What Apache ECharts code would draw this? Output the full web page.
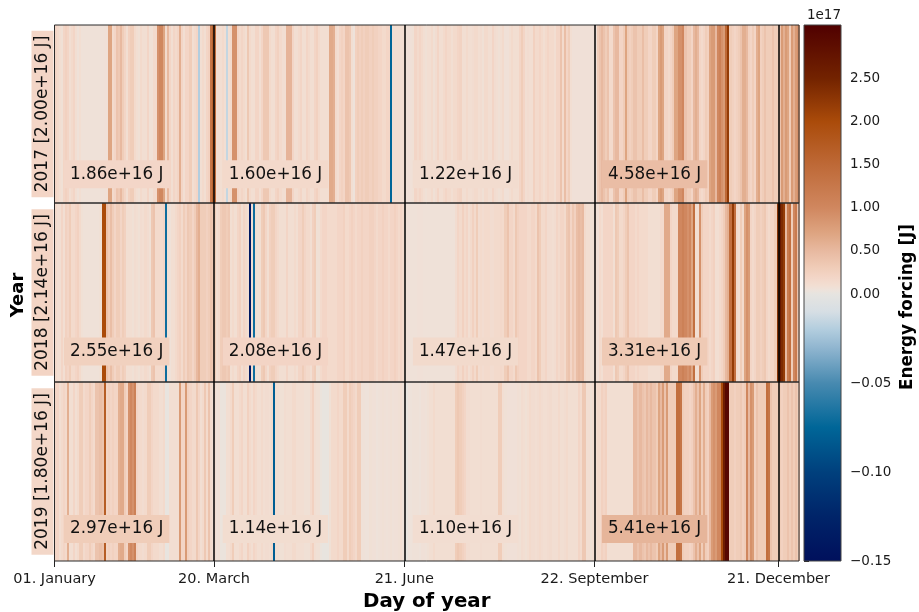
<!DOCTYPE html>
<html><head><meta charset="utf-8">
<style>html,body{margin:0;padding:0;background:#fff}#c{width:919px;height:612px}</style>
<script src="https://cdn.jsdelivr.net/npm/echarts@6/dist/echarts.min.js"></script>
</head><body><div id="c"></div>
<script>
// Daily energy forcing, in units of 1e16 J
const days2017 = [
2,1.5,1,0.8,2,2.5,2,1,1.5,2,
1,0.6,1,0.6,0.6,0.6,0.6,0.6,0.6,0.6,
0.6,0.6,0.6,0.6,0.7,0.7,7,7,1.5,2,
4,3.5,5,3,2,1,2.5,3,3,1.5,
1,0.8,1.5,1,1,2,0.8,0.8,1.5,1.5,
9,10,10,7,1.5,5,2,1,2,1.5,
2,6,2,1,2,2,3,1,1.5,2,
-0.2,1,1.5,1,2,2.5,13,16,14,1,
1,1,1.5,1,-0.15,1,1.5,9,9,2,
1.5,2,1.5,1,3.5,1.5,1,1,2,2,
1,2,3.5,3.5,3.5,1.5,1,1,2,2.5,
1.5,1,1,5.5,5.5,5.5,2,1,1,1.5,
2,1,1,2,1.5,1,1,2,2.5,1.5,
1,1,1,1,6.5,6.5,6,1.5,1,2,
2.5,2,4,4,3.5,1,0.5,2.5,3,2.5,
3,2.5,3,3,2.5,3,2.5,2.5,2,2,
1.5,1.5,2,2,-0.75,1,1,1,1,1,
1,1,0.6,0.7,0.7,0.8,2,1.5,2,1.5,
1,0.8,1,1,1.5,0.8,1.2,2,1,1,
1.5,2,1.5,1.5,1,1.5,1.5,2,2.2,1,
1,1.5,1,1,1.2,1.5,1.5,1,1.2,0.8,
1.5,1.5,1,1,2,1.2,1,0.8,1,1.5,
0.7,0.7,1,1.5,1,1,1,2,3,2,
1,1.2,1,1,2.5,1.5,1.5,2,1.5,1,
1.5,2,1.5,1.5,1,2,2,4,1.5,4.5,
2,3,1,0.7,0.7,0.7,0.7,0.7,0.7,0.7,
0.7,0.7,0.7,0.7,0.7,3,4,5,4,3,
4,1.5,1.5,4,5,5,2,2,3,7,
3,2.5,3,4,4,3,3,4.5,3,3,
2,2,3,3,2,7,8,7,2,2,
1.5,2,3,7,7,9,9,10,4,3,
3,2,5,6,5,2,1.5,2,3,2.5,
7,8,8,5,10,11,9,8,15,22,
3,2.5,2,2.5,3,4,6,6,5,2.5,
2,3,2,6,7,2.5,3,4,3,3,
3,4,3,3,4,8,6,8,7,3,
8,6,8,9,6];
const days2018 = [
1.5,1,1,2,1,2.5,2,3,1.5,1.5,
2,2.5,1.5,0.8,0.6,0.6,0.6,0.6,0.6,0.6,
0.6,0.6,0.8,20,20,4,3,4.5,3,2,
3,3,2,3,2.5,1,1,1,0.8,1.2,
1,0.8,1.2,1,1.5,1.2,0.8,3.5,4,1.5,
1.5,1.5,1.5,2,-0.7,0.8,0.6,1,1,1.5,
2,2.5,1.5,3,2,3.5,3,2,3,5,
6,3,3,3,2.5,3,4,3.5,3,1,
1.5,3,3.5,3.5,3,3.5,1,1.5,1,2,
2.5,1,2,1.5,1,-1.4,1,-0.7,1,0.8,
1,3,3.5,2,1,2.5,3,3,2,1.5,
1,1,1,2,1,1,1,1.5,1,2,
2,3,2,1.5,1.5,1,2.5,3,0.8,0.8,
1.5,2,2,1.5,1.5,1.5,1.5,1.5,2,2,
2,2.5,1.5,1.5,2,2.5,2,1.5,2,2,
2.5,2,2,2,2.5,2.5,2,1.5,2,2,
2.5,2,2,1.5,2,2,2.5,2,1.5,2,
1.5,0.6,0.6,0.6,0.6,0.6,0.6,0.7,0.7,0.7,
0.6,0.6,0.6,0.6,0.6,0.6,0.6,0.6,0.6,0.6,
0.6,0.6,0.6,0.6,0.6,0.6,1.2,2,1.5,2.5,
1.5,2,1,1.5,2.5,1.5,3,1.2,1.5,1.2,
1.5,1.5,1.5,1.2,1.2,1.5,1.5,1.5,1.7,1.5,
3,4,2,2,1.5,3.5,2.5,2,2,2,
2,1.5,1.5,2,2,1.5,4,3,1.5,1.5,
2,1.2,1.2,1,1.2,2,1.5,2,2,1.5,
3.5,4,2,3.5,2.5,4.5,5,4.5,5,1.5,
1,1,0.8,0.8,0.7,0.7,1.5,1,2,2,
2,2,2,1,3.5,3,1.5,1.5,2,3,
4,2,2,2,1.5,2,1.5,1.5,1.5,1.5,
1,1,1,1,1,1,1.5,1.5,6.5,6.5,
6.5,2,1.5,1.5,1.5,10,10,11,10,9,
10,7,14,1,1,9,3,2,2,2,
1.5,2,2.5,1,1,1.5,2,3,5,6,
14,22,14,1.5,1,3,1.5,7,9,8,
2,1.5,2,3,3,2.5,3,3.5,2,1.5,
2,2,3,23,27,24,22,5,12,14,
3,10,12,4,3];
const days2019 = [
2,2,1,1.5,2,1.5,6,1,1,2,
1,1.5,3,3,1.5,2,2,3,2,1.5,
4,4,4.5,4,17,2,2.5,2,2.5,2,
2,6,6.5,6.5,3,2,9,10,9,11,
2,1.5,1.5,1.2,1.5,3,3,2,1.5,1.5,
1.5,1,1,1.5,0.1,0.1,1,1,1,1,
1,8,2,2,8,2.5,2,1.5,1.5,3.5,
2,1,1.5,3.5,1.5,4,1.5,1,1.2,0.6,
0.8,0.3,0.3,0.3,1,1,1.5,3,1,1,
1.5,2,1,1,2.5,1.5,1,2,1.5,1,
1,1.5,1,1.2,1.2,1,1.5,-0.8,1,1,
0.8,0.8,1.2,1,1,1,1.5,1.5,1,1,
1,1,0.8,0.8,0.8,1.5,2.5,1,0.8,0.8,
0.3,0.1,0.1,0.1,0.8,1.5,1.5,1.5,2,1.5,
1.5,3,3,1.5,3,2.5,2,1.5,3,3,
0.6,0.6,0.5,0.5,0.8,0.7,0.7,0.5,0.6,0.7,
0.8,0.7,0.6,0.7,0.8,0.6,0.7,0.7,0.8,1,
0.6,0.1,0.1,0.5,0.5,0.6,0.6,0.6,0.5,0.7,
0.7,0.6,0.8,1,1,1.5,1,1,1,1,
1,1,1,1,1,1,3,3.5,3,2.5,
2,1.2,1.2,1,1,1,1,1,1.2,1,
1,1,1,1,1,1,1,3,3,1,
0.8,0.7,0.7,0.7,0.7,0.7,0.9,0.8,1.2,1,
0.8,1,1.5,1.2,1.2,1,1.2,1.5,1.2,1,
1,1.2,1.3,1,1,1,1.5,1,1,1.2,
1.5,1,1,1,1,1,2,1.5,3.5,3.5,
1,1,0.8,1,1,1.5,1.5,2.5,2,2.5,
1,1,1,1,1,1,1,1,1,1,
1,1,1,5,5,4,5,4,3.5,5,
4,5,4,4,3,7,5,8,4,8,
3,3,3,3,14,14,13,3,2.5,2.5,
2,2.5,4,6,4,7,3,6,3,2.5,
5,8,9,8,10,10,20,26,30,30,
3,3,2.5,3,3,3.5,2.5,3,10,5,
9,8,2.5,4,3,3,3,3,14,13,
4,3,3,3,3,2.5,3,3,4,3,
4,3,4,3,4];

const yearNames = ['2017 [2.00e+16 J]', '2018 [2.14e+16 J]', '2019 [1.80e+16 J]'];
const yearMeans = [2.00, 2.14, 1.80];
const quarterMeans = [[1.86,1.60,1.22,4.58],[2.55,2.08,1.47,3.31],[2.97,1.14,1.10,5.41]];
const quarterTexts = [
  ['1.86e+16 J','1.60e+16 J','1.22e+16 J','4.58e+16 J'],
  ['2.55e+16 J','2.08e+16 J','1.47e+16 J','3.31e+16 J'],
  ['2.97e+16 J','1.14e+16 J','1.10e+16 J','5.41e+16 J']];
const tickDays = [0,78,171,264,354];
const tickNames = ['01. January','20. March','21. June','22. September','21. December'];
const dividerDays = [78,171,264,354];
const upperTicks = [0,0.5,1,1.5,2,2.5];
const lowerTicks = [-0.15,-0.1,-0.05];

// colour map stops: value in 1e16 J, colour
const stopValues = [-1.5,-1.25,-1,-0.75,-0.5,-0.3,-0.2,-0.1,0,0.5,1,2,3,5,7,10,15,20,25,31.2];
const stopColors = [[0,16,92],[0,36,105],[0,64,125],[0,102,152],[72,138,176],[145,182,208],[178,205,222],[214,222,228],[230,228,224],
  [238,226,218],[242,222,210],[243,213,198],[240,205,185],[232,185,160],[222,165,130],[208,135,95],[190,105,55],[170,75,10],[115,35,0],[80,0,0]];

function toCss(c){return 'rgb('+c.map(Math.round).join(',')+')';}
function cmap(v){
  const n = stopValues.length;
  if (v <= stopValues[0]) return toCss(stopColors[0]);
  for (let i=1;i<n;i++){
    if (v <= stopValues[i]){
      const t=(v-stopValues[i-1])/(stopValues[i]-stopValues[i-1]);
      return toCss(stopColors[i].map((c,k)=>stopColors[i-1][k]+(c-stopColors[i-1][k])*t));
    }
  }
  return toCss(stopColors[n-1]);
}

const FONT='DejaVu Sans';
const rowTops=[25,203,382], rowHeights=[178,179,179];
const rowLabelY=[0.161,0.17,0.179];
const labelDays=[30.4,108,201,293.4];
const series=[days2017,days2018,days2019];
const grids=[],xAxes=[],yAxes=[],allSeries=[];

function renderDay(params,api){
  const x0=api.coord([api.value(0),0]), x1=api.coord([api.value(0)+1,1]);
  const l=Math.round(x0[0]), r=Math.round(x1[0]);
  return {type:'rect',shape:{x:l,y:x1[1],width:r-l,height:x0[1]-x1[1]},style:{fill:cmap(api.value(1)),stroke:null}};
}

series.forEach((vals,k)=>{
  grids.push({left:54.5,width:744.5,top:rowTops[k],height:rowHeights[k],outerBoundsMode:'none',show:true,z:5,backgroundColor:'transparent',borderColor:'#2a2a2a',borderWidth:1});
  const bottom=k===2;
  xAxes.push({gridIndex:k,type:'value',min:0,max:364,splitLine:{show:false},axisLine:{show:false},
    axisTick:{show:bottom,customValues:tickDays,length:6,lineStyle:{color:'#222',width:1}},
    axisLabel:{show:bottom,customValues:tickDays,margin:11,fontFamily:FONT,fontSize:14.5,color:'#1a1a1a',
      formatter:v=>tickNames[tickDays.indexOf(v)]||'',hideOverlap:false},
    name:bottom?'Day of year':'',nameLocation:'middle',nameGap:31,
    nameTextStyle:{fontFamily:FONT,fontWeight:'bold',fontSize:19.8,color:'#000'}});
  yAxes.push({gridIndex:k,type:'value',min:0,max:1,splitLine:{show:false},axisLine:{show:false},axisTick:{show:false},axisLabel:{show:false},
    name:yearNames[k],nameLocation:'middle',nameRotate:90,nameGap:1,
    nameTextStyle:{fontFamily:FONT,fontSize:17,color:'#111',backgroundColor:cmap(yearMeans[k]),padding:[3,5,2,5]}});
  allSeries.push({type:'custom',xAxisIndex:k,yAxisIndex:k,clip:true,silent:true,z:2,renderItem:renderDay,
    encode:{x:0},data:vals.map((v,i)=>[i,v]),
    markLine:{silent:true,symbol:'none',animation:false,label:{show:false},lineStyle:{color:'#000',width:1.5,type:'solid'},
      data:dividerDays.map(d=>({xAxis:d}))}});
  allSeries.push({type:'scatter',xAxisIndex:k,yAxisIndex:k,silent:true,z:10,symbolSize:1,itemStyle:{color:'transparent',opacity:1},
    data:quarterMeans[k].map((m,q)=>({value:[labelDays[q],rowLabelY[k]],
      label:{show:true,position:'inside',opacity:1,formatter:quarterTexts[k][q],fontFamily:FONT,fontSize:16.8,color:'#111',
        backgroundColor:cmap(m),padding:[6,6,5,6]}}))});
});

// colour bar: two stacked linear panels, upper 0..3.12e17, lower -0.15..0e17
const barUpper=[0,3.12], barLower=[-0.15,0];
function gradientFor(range){
  const stops=[];
  stopValues.forEach((v,i)=>{
    const val=v/10;
    if(val>=range[0]&&val<=range[1]) stops.push({offset:1-(val-range[0])/(range[1]-range[0]),color:toCss(stopColors[i])});
  });
  return new echarts.graphic.LinearGradient(0,0,0,1,stops.sort((a,b)=>a.offset-b.offset));
}
[[barUpper,25,269,upperTicks],[barLower,294,267,lowerTicks]].forEach(([range,top,h,ticks],j)=>{
  const gi=3+j;
  grids.push({left:804,width:37,top:top,height:h,outerBoundsMode:'none',show:false});
  xAxes.push({gridIndex:gi,type:'value',min:0,max:1,show:false});
  yAxes.push({gridIndex:gi,type:'value',position:'right',min:range[0],max:range[1],splitLine:{show:false},axisLine:{show:false},
    axisTick:{show:true,customValues:ticks,length:5,lineStyle:{color:'#222'}},
    axisLabel:{customValues:ticks,margin:9,fontFamily:FONT,fontSize:13.5,color:'#1a1a1a',
      formatter:v=>(v<0?'\u2212':'')+Math.abs(v).toFixed(2)}});
  const fill=gradientFor(range);
  allSeries.push({type:'custom',xAxisIndex:gi,yAxisIndex:gi,silent:true,z:2,clip:true,encode:{y:1},
    data:[[0,range[0],1,range[1]]],
    renderItem:(p,api)=>{
      const a=api.coord([api.value(0),api.value(1)]), b=api.coord([api.value(2),api.value(3)]);
      return {type:'rect',shape:{x:a[0],y:b[1],width:b[0]-a[0],height:a[1]-b[1]},style:{fill:fill}};
    }});
});
// frame around the whole colour bar
grids.push({left:804,width:37,top:25,height:536,outerBoundsMode:'none',show:true,z:5,backgroundColor:'transparent',borderColor:'#444',borderWidth:1});
xAxes.push({gridIndex:5,type:'value',show:false});
yAxes.push({gridIndex:5,type:'value',show:false});

const chart=echarts.init(document.getElementById('c'),null,{renderer:'canvas'});
chart.setOption({
  animation:false,backgroundColor:'#fff',
  grid:grids,xAxis:xAxes,yAxis:yAxes,series:allSeries,
  graphic:[
    {type:'text',x:18,y:295,rotation:Math.PI/2,silent:true,style:{text:'Year',font:'bold 18px "DejaVu Sans"',fill:'#000',align:'center',verticalAlign:'middle'}},
    {type:'text',x:908,y:307,rotation:Math.PI/2,silent:true,style:{text:'Energy forcing [J]',font:'bold 16.8px "DejaVu Sans"',fill:'#000',align:'center',verticalAlign:'middle'}},
    {type:'text',x:841,y:15,silent:true,style:{text:'1e17',font:'13.5px "DejaVu Sans"',fill:'#1a1a1a',align:'right',verticalAlign:'middle'}}
  ]
});
</script></body></html>
